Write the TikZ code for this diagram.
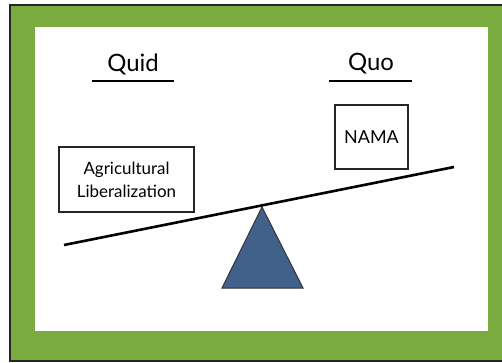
\documentclass[tikz,border=0pt]{standalone}
\usepackage{fontspec}
\setmainfont{Lato}
\definecolor{frameGreen}{HTML}{7AAB3E}
\definecolor{fulcrumBlue}{HTML}{41618A}
\begin{document}
\begin{tikzpicture}[x=1bp,y=-1bp,
  labelbox/.style={draw=black!85,line width=1.2bp,fill=white,inner sep=0pt,align=center},
  heading/.style={font=\fontsize{24}{28}\selectfont,inner sep=0pt},
  uline/.style={line width=2bp},
  beam/.style={line width=2.6bp}]
\useasboundingbox (0,0) rectangle (502,362);
\fill[white] (0,0) rectangle (502,362);
\fill[frameGreen] (10,5) rectangle (503,361);
\draw[line width=1.5bp,black!85] (10,362) -- (10,5) -- (503,5);
\draw[line width=1.5bp,black!85] (10,361) -- (503,361);
\fill[white] (35,27) rectangle (488,331);
% headings
\node[heading] (quid) at (133,64) {Quid};
\node[heading] (quo) at (371,64) {Quo};
\coordinate (q1a) at (92,81); \coordinate (q1b) at (174,81);
\coordinate (q2a) at (329,81); \coordinate (q2b) at (412,81);
\draw[uline] (q1a) -- (q1b);
\draw[uline] (q2a) -- (q2b);
% boxes
\node[labelbox,minimum width=135bp,minimum height=65bp,font=\fontsize{17}{23}\selectfont] (agri) at (126.5,179.5) {Agricultural\\Liberalization};
\node[labelbox,minimum width=73bp,minimum height=64bp,font=\fontsize{18}{22}\selectfont] (nama) at (371.5,137) {NAMA};
% fulcrum
\coordinate (apex) at (262,207);
\coordinate (bl) at (222,288);
\coordinate (br) at (303,288);
\filldraw[fill=fulcrumBlue,draw=black!80,line width=1bp] (apex) -- (bl) -- (br) -- cycle;
% beam
\coordinate (beamL) at (64,245);
\coordinate (beamR) at (454,167);
\draw[beam] (beamL) -- (beamR);
\end{tikzpicture}
\end{document}
